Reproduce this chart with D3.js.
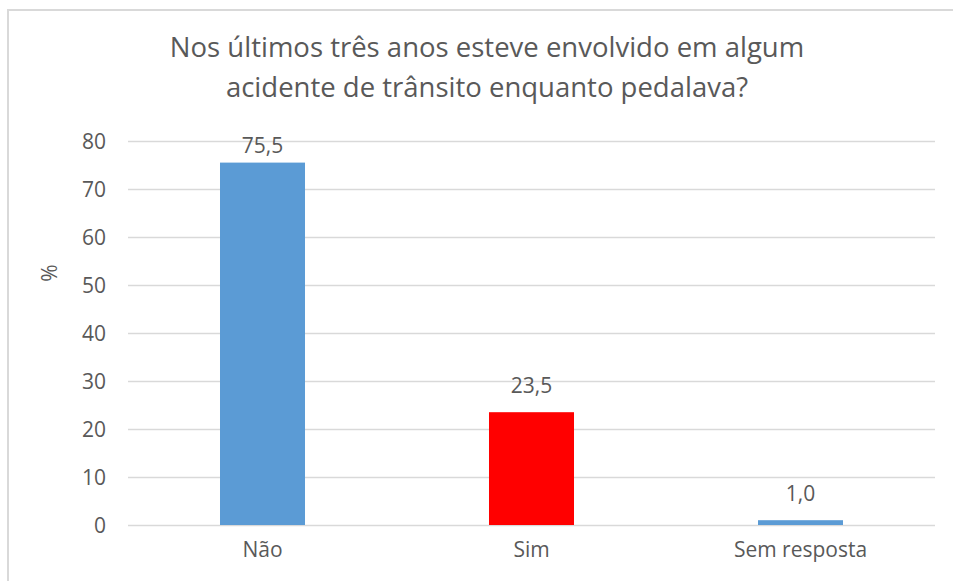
<!DOCTYPE html>
<html>
<head>
<meta charset="utf-8">
<script src="https://cdn.jsdelivr.net/npm/d3@7"></script>
<style>
  body { margin: 0; background: #fff; }
  text { font-family: "Open Sans", "Noto Sans", sans-serif; fill: #595959; }
</style>
</head>
<body>
<div id="chart"></div>
<script>
var categories  = ["Não", "Sim", "Sem resposta"];
var values      = [75.5, 23.5, 1.0];
var barColors   = ["#5b9bd5", "#ff0000", "#5b9bd5"];
var yTicks      = [0, 10, 20, 30, 40, 50, 60, 70, 80];
var titleLines  = ["Nos últimos três anos esteve envolvido em algum", "acidente de trânsito enquanto pedalava?"];
var yLabel      = "%";

var width  = 953;
var height = 581;
var margin = {left:128, right:18, top:141, bottom:56};

var svg = d3.select("#chart").append("svg").attr("width", width).attr("height", height);

// chart frame (only left/top visible in the crop)
svg.append("rect").attr("x", 8).attr("y", 10).attr("width", 960).attr("height", 600)
   .attr("fill", "#fff").attr("stroke", "#d9d9d9").attr("stroke-width", 2);

var x = d3.scaleBand().domain(categories).range([margin.left, width - margin.right]).padding(0);
var y = d3.scaleLinear().domain([0, 80]).range([height - margin.bottom, margin.top]);

var barWidth = x.bandwidth() * 0.316;

// gridlines
var yAxis = d3.axisLeft(y).tickValues(yTicks).tickSize(-(width - margin.left - margin.right)).tickPadding(22);
var gy = svg.append("g").attr("transform", "translate(" + margin.left + ",0)").call(yAxis);
gy.select(".domain").remove();
gy.selectAll(".tick line").attr("stroke", "#d9d9d9").attr("stroke-width", 1.3);
gy.selectAll(".tick text").style("font-size", "21px").attr("fill", "#595959").attr("dy", "0.35em");

// bars
var data = categories.map(function(c, i){ return {cat:c, value:values[i], color:barColors[i]}; });

svg.selectAll("rect.bar").data(data).enter().append("rect").attr("class", "bar")
   .attr("x", function(d){ return x(d.cat) + x.bandwidth()/2 - barWidth/2; })
   .attr("y", function(d){ return y(d.value); })
   .attr("width", barWidth)
   .attr("height", function(d){ return y(0) - y(d.value); })
   .attr("fill", function(d){ return d.color; });

// value labels (kept inside plot area like Excel does)
svg.selectAll("text.val").data(data).enter().append("text").attr("class", "val")
   .attr("x", function(d){ return x(d.cat) + x.bandwidth()/2; })
   .attr("y", function(d){ return Math.max(y(d.value) - 19, y(80) + 12); })
   .attr("text-anchor", "middle").style("font-size", "21px")
   .text(function(d){ return d.value.toFixed(1).replace(".", ","); });

// x axis labels
var xAxis = d3.axisBottom(x).tickSize(0).tickPadding(17);
var gx = svg.append("g").attr("transform", "translate(0," + y(0) + ")").call(xAxis);
gx.select(".domain").remove();
gx.selectAll(".tick text").style("font-size", "21px").attr("fill", "#595959");

// y axis title
svg.append("text").attr("transform", "translate(57,273) rotate(-90)")
   .attr("text-anchor", "middle").style("font-size", "21px").text(yLabel);

// title
svg.selectAll("text.title").data(titleLines).enter().append("text").attr("class", "title")
   .attr("x", 487).attr("y", function(d, i){ return 57 + i*40; })
   .attr("text-anchor", "middle").style("font-size", "27.5px")
   .text(function(d){ return d; });
</script>
</body>
</html>
